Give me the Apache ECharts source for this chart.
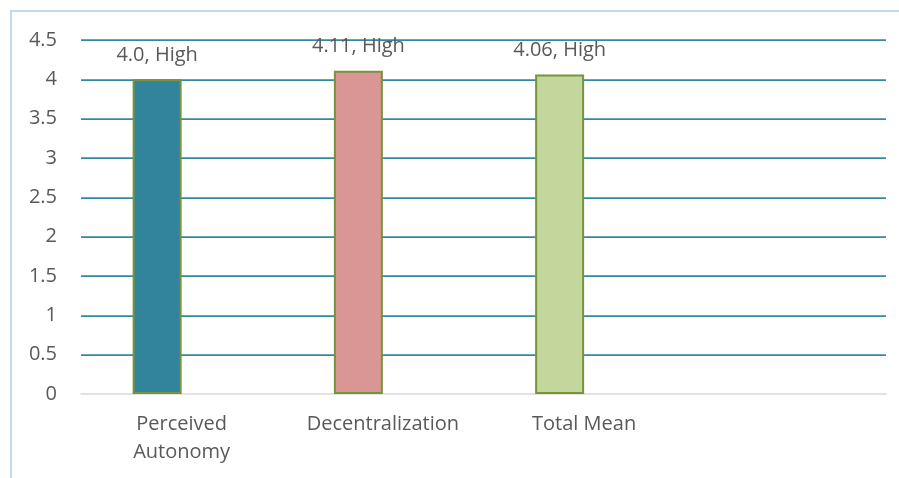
<!DOCTYPE html>
<html>
<head>
<meta charset="utf-8">
<script src="https://cdn.jsdelivr.net/npm/echarts@6/dist/echarts.min.js"></script>
<style>
  html, body { margin: 0; padding: 0; background: #fff; }
  #chart { width: 899px; height: 478px; }
</style>
</head>
<body>
<div id="chart"></div>
<script>
// Dimensions and their mean scores
const categories = ['Perceived\nAutonomy', 'Decentralization', 'Total Mean', ''];
const means = [4.0, 4.11, 4.06, null];
const levels = ['High', 'High', 'High', ''];
const barColors = ['#31849B', '#D99694', '#C3D69B', '#C3D69B'];

// Y axis ticks
const yMin = 0, yMax = 4.5, yStep = 0.5;

const TEXT = '#595959';
const FONT = 'Open Sans';

function fmt(v) {
  const s = String(v);
  return s.includes('.') ? s : v.toFixed(1);
}

const chart = echarts.init(document.getElementById('chart'), null, { renderer: 'canvas' });

chart.setOption({
  animation: false,
  backgroundColor: '#ffffff',
  grid: { left: 81, right: 13, top: 40, bottom: 84, containLabel: false },
  graphic: [{
    type: 'rect',
    shape: { x: 11, y: 11, width: 1200, height: 1200 },
    style: { fill: 'none', stroke: '#A3D3E2', lineWidth: 1.5 },
    silent: true,
    z: -1
  }],
  xAxis: {
    type: 'category',
    data: categories,
    axisLine: { lineStyle: { color: '#D9D9D9', width: 1.5 } },
    axisTick: { show: false },
    axisLabel: {
      color: TEXT, fontFamily: FONT, fontSize: 20, lineHeight: 28,
      margin: 16, interval: 0, verticalAlign: 'top'
    }
  },
  yAxis: {
    type: 'value',
    min: yMin, max: yMax, interval: yStep,
    axisLine: { show: false },
    axisTick: { show: false },
    axisLabel: {
      color: TEXT, fontFamily: FONT, fontSize: 20, margin: 24,
      formatter: v => String(v)
    },
    splitLine: { showMinLine: false, lineStyle: { color: '#34889F', width: 1.75 } }
  },
  series: [
    {
      type: 'bar',
      barWidth: 49,
      barGap: '0%',
      data: means.map((v, i) => ({
        value: v,
        itemStyle: { color: barColors[i] }
      })),
      itemStyle: { borderColor: '#77933C', borderWidth: 2 },
      label: {
        show: true,
        position: 'top',
        distance: 14,
        color: TEXT,
        fontFamily: FONT,
        fontSize: 20,
        lineHeight: 20,
        formatter: p => p.value == null ? '' : fmt(p.value) + ', ' + levels[p.dataIndex]
      }
    },
    {
      // empty companion series keeps each bar in the left slot of its category
      type: 'bar',
      barWidth: 49,
      data: categories.map(() => null)
    }
  ]
});
</script>
</body>
</html>
